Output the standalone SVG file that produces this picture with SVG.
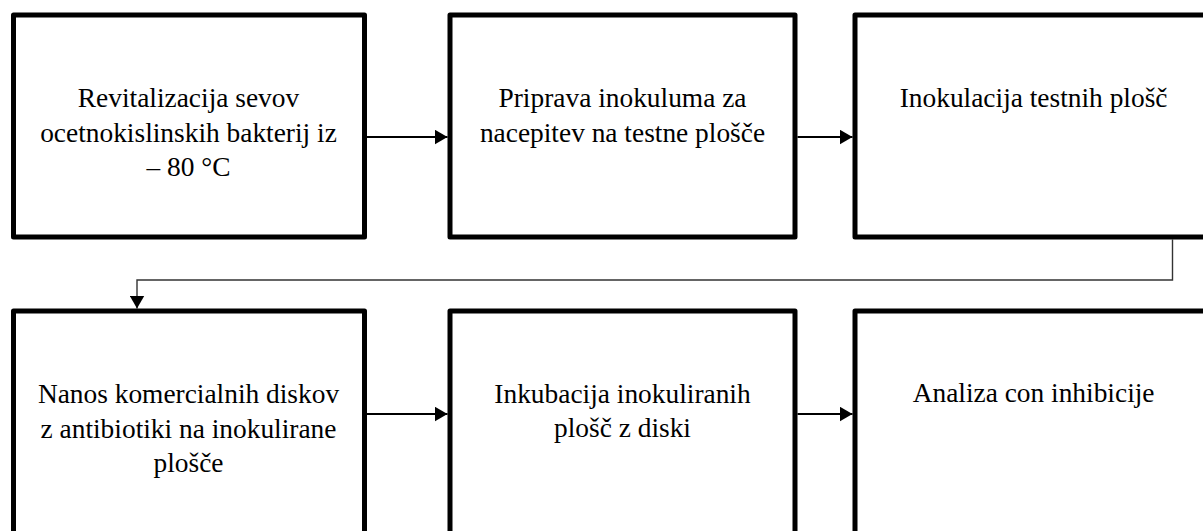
<svg xmlns="http://www.w3.org/2000/svg" width="1203" height="531" viewBox="0 0 1203 531">
<style>
.box{fill:#fff;stroke:#000;stroke-width:5;stroke-linejoin:round}
.t{font-family:"Liberation Serif","Times New Roman",serif;font-size:27.4px;fill:#000;text-anchor:middle}
.arr{fill:none;stroke:#000;stroke-width:2}
.elb{fill:none;stroke:#333;stroke-width:1.4}
</style>
<defs>
<marker id="ah" viewBox="0 0 13 15" refX="13" refY="7.5" markerWidth="13" markerHeight="15" markerUnits="userSpaceOnUse" orient="auto">
<path d="M0,0 L13,7.5 L0,15 Z" fill="#000"/>
</marker>
</defs>
<rect width="1203" height="531" fill="#fff"/>
<g id="connectors">
<line class="arr" x1="367" y1="137" x2="447.5" y2="137" marker-end="url(#ah)"/>
<line class="arr" x1="797.5" y1="137" x2="852.5" y2="137" marker-end="url(#ah)"/>
<path class="elb" d="M1172.5 239.5 V280 H137 V308.5" marker-end="url(#ah)"/>
<line class="arr" x1="367" y1="414" x2="447.5" y2="414" marker-end="url(#ah)"/>
<line class="arr" x1="797.5" y1="414" x2="852.5" y2="414" marker-end="url(#ah)"/>
</g>
<g id="node1">
<rect class="box" x="13.5" y="15" width="351" height="222"/>
<text class="t" x="188.5" y="107">Revitalizacija sevov</text>
<text class="t" x="188.5" y="141.5">ocetnokislinskih bakterij iz</text>
<text class="t" x="188.5" y="176">– 80 °C</text>
</g>
<g id="node2">
<rect class="box" x="450" y="15" width="345" height="222"/>
<text class="t" x="622.5" y="107">Priprava inokuluma za</text>
<text class="t" x="622.5" y="141.5">nacepitev na testne plošče</text>
</g>
<g id="node3">
<rect class="box" x="855" y="15" width="360" height="222"/>
<text class="t" x="1033.6" y="106.5">Inokulacija testnih plošč</text>
</g>
<g id="node4">
<rect class="box" x="13.5" y="311" width="351" height="240"/>
<text class="t" x="188.5" y="403">Nanos komercialnih diskov</text>
<text class="t" x="188.5" y="437.5">z antibiotiki na inokulirane</text>
<text class="t" x="188.5" y="472">plošče</text>
</g>
<g id="node5">
<rect class="box" x="450" y="311" width="345" height="240"/>
<text class="t" x="622.5" y="403">Inkubacija inokuliranih</text>
<text class="t" x="622.5" y="437">plošč z diski</text>
</g>
<g id="node6">
<rect class="box" x="855" y="311" width="360" height="240"/>
<text class="t" x="1033.6" y="402">Analiza con inhibicije</text>
</g>
</svg>
